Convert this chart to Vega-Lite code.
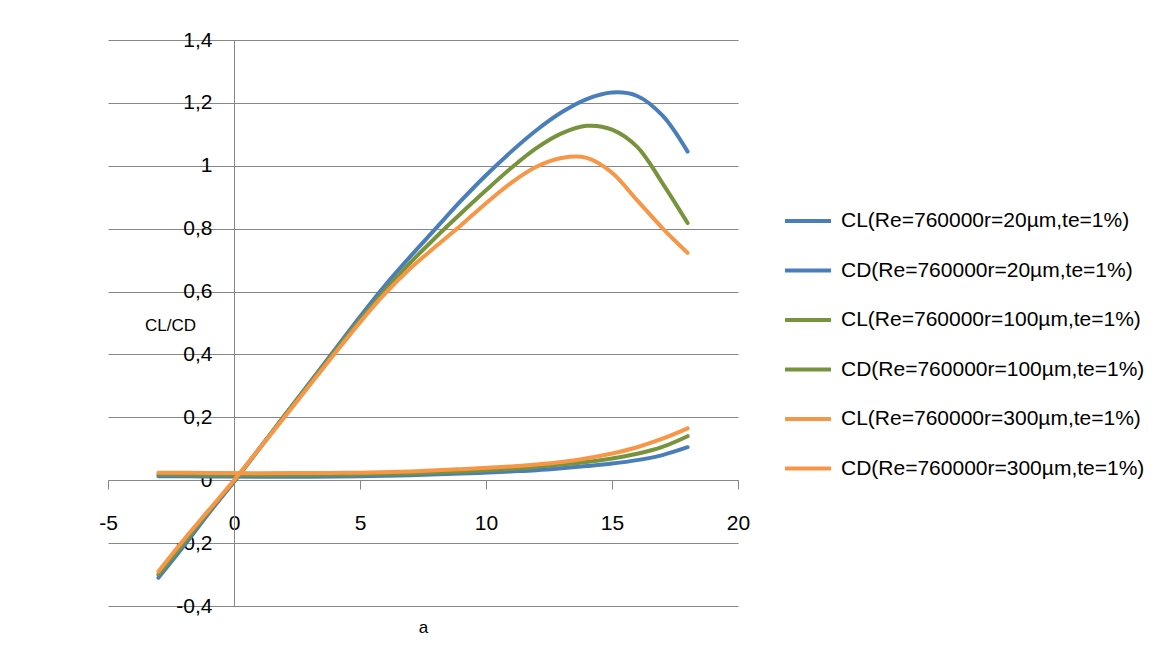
{
  "$schema": "https://vega.github.io/schema/vega-lite/v6.json",
  "autosize": "none",
  "padding": {"left": 108, "top": 40, "right": 428, "bottom": 64},
  "width": 630,
  "height": 566,
  "background": "white",
  "config": {
    "font": "Liberation Sans",
    "view": {"stroke": null},
    "axis": {"labelFont": "Liberation Sans", "titleFont": "Liberation Sans"}
  },
  "datasets": {
    "curves": [
      {"a": -3, "v": -0.31, "s": "CL(Re=760000r=20µm,te=1%)"},
      {"a": -2, "v": -0.21, "s": "CL(Re=760000r=20µm,te=1%)"},
      {"a": -1, "v": -0.105, "s": "CL(Re=760000r=20µm,te=1%)"},
      {"a": 0, "v": -0.005, "s": "CL(Re=760000r=20µm,te=1%)"},
      {"a": 1, "v": 0.1, "s": "CL(Re=760000r=20µm,te=1%)"},
      {"a": 2, "v": 0.205, "s": "CL(Re=760000r=20µm,te=1%)"},
      {"a": 3, "v": 0.31, "s": "CL(Re=760000r=20µm,te=1%)"},
      {"a": 4, "v": 0.415, "s": "CL(Re=760000r=20µm,te=1%)"},
      {"a": 5, "v": 0.52, "s": "CL(Re=760000r=20µm,te=1%)"},
      {"a": 6, "v": 0.62, "s": "CL(Re=760000r=20µm,te=1%)"},
      {"a": 7, "v": 0.712, "s": "CL(Re=760000r=20µm,te=1%)"},
      {"a": 8, "v": 0.8, "s": "CL(Re=760000r=20µm,te=1%)"},
      {"a": 9, "v": 0.888, "s": "CL(Re=760000r=20µm,te=1%)"},
      {"a": 10, "v": 0.97, "s": "CL(Re=760000r=20µm,te=1%)"},
      {"a": 11, "v": 1.045, "s": "CL(Re=760000r=20µm,te=1%)"},
      {"a": 12, "v": 1.113, "s": "CL(Re=760000r=20µm,te=1%)"},
      {"a": 13, "v": 1.17, "s": "CL(Re=760000r=20µm,te=1%)"},
      {"a": 14, "v": 1.212, "s": "CL(Re=760000r=20µm,te=1%)"},
      {"a": 15, "v": 1.233, "s": "CL(Re=760000r=20µm,te=1%)"},
      {"a": 16, "v": 1.222, "s": "CL(Re=760000r=20µm,te=1%)"},
      {"a": 17, "v": 1.16, "s": "CL(Re=760000r=20µm,te=1%)"},
      {"a": 18, "v": 1.045, "s": "CL(Re=760000r=20µm,te=1%)"},

      {"a": -3, "v": 0.013, "s": "CD(Re=760000r=20µm,te=1%)"},
      {"a": -1, "v": 0.012, "s": "CD(Re=760000r=20µm,te=1%)"},
      {"a": 1, "v": 0.011, "s": "CD(Re=760000r=20µm,te=1%)"},
      {"a": 3, "v": 0.011, "s": "CD(Re=760000r=20µm,te=1%)"},
      {"a": 5, "v": 0.013, "s": "CD(Re=760000r=20µm,te=1%)"},
      {"a": 7, "v": 0.016, "s": "CD(Re=760000r=20µm,te=1%)"},
      {"a": 9, "v": 0.021, "s": "CD(Re=760000r=20µm,te=1%)"},
      {"a": 11, "v": 0.028, "s": "CD(Re=760000r=20µm,te=1%)"},
      {"a": 12, "v": 0.032, "s": "CD(Re=760000r=20µm,te=1%)"},
      {"a": 13, "v": 0.038, "s": "CD(Re=760000r=20µm,te=1%)"},
      {"a": 14, "v": 0.045, "s": "CD(Re=760000r=20µm,te=1%)"},
      {"a": 15, "v": 0.053, "s": "CD(Re=760000r=20µm,te=1%)"},
      {"a": 16, "v": 0.064, "s": "CD(Re=760000r=20µm,te=1%)"},
      {"a": 17, "v": 0.08, "s": "CD(Re=760000r=20µm,te=1%)"},
      {"a": 18, "v": 0.105, "s": "CD(Re=760000r=20µm,te=1%)"},

      {"a": -3, "v": -0.3, "s": "CL(Re=760000r=100µm,te=1%)"},
      {"a": -2, "v": -0.2, "s": "CL(Re=760000r=100µm,te=1%)"},
      {"a": -1, "v": -0.1, "s": "CL(Re=760000r=100µm,te=1%)"},
      {"a": 0, "v": -0.003, "s": "CL(Re=760000r=100µm,te=1%)"},
      {"a": 1, "v": 0.1, "s": "CL(Re=760000r=100µm,te=1%)"},
      {"a": 2, "v": 0.205, "s": "CL(Re=760000r=100µm,te=1%)"},
      {"a": 3, "v": 0.307, "s": "CL(Re=760000r=100µm,te=1%)"},
      {"a": 4, "v": 0.41, "s": "CL(Re=760000r=100µm,te=1%)"},
      {"a": 5, "v": 0.51, "s": "CL(Re=760000r=100µm,te=1%)"},
      {"a": 6, "v": 0.605, "s": "CL(Re=760000r=100µm,te=1%)"},
      {"a": 7, "v": 0.692, "s": "CL(Re=760000r=100µm,te=1%)"},
      {"a": 8, "v": 0.772, "s": "CL(Re=760000r=100µm,te=1%)"},
      {"a": 9, "v": 0.848, "s": "CL(Re=760000r=100µm,te=1%)"},
      {"a": 10, "v": 0.922, "s": "CL(Re=760000r=100µm,te=1%)"},
      {"a": 11, "v": 0.993, "s": "CL(Re=760000r=100µm,te=1%)"},
      {"a": 12, "v": 1.056, "s": "CL(Re=760000r=100µm,te=1%)"},
      {"a": 13, "v": 1.103, "s": "CL(Re=760000r=100µm,te=1%)"},
      {"a": 14, "v": 1.127, "s": "CL(Re=760000r=100µm,te=1%)"},
      {"a": 15, "v": 1.115, "s": "CL(Re=760000r=100µm,te=1%)"},
      {"a": 16, "v": 1.06, "s": "CL(Re=760000r=100µm,te=1%)"},
      {"a": 17, "v": 0.945, "s": "CL(Re=760000r=100µm,te=1%)"},
      {"a": 18, "v": 0.818, "s": "CL(Re=760000r=100µm,te=1%)"},

      {"a": -3, "v": 0.018, "s": "CD(Re=760000r=100µm,te=1%)"},
      {"a": -1, "v": 0.017, "s": "CD(Re=760000r=100µm,te=1%)"},
      {"a": 1, "v": 0.016, "s": "CD(Re=760000r=100µm,te=1%)"},
      {"a": 3, "v": 0.017, "s": "CD(Re=760000r=100µm,te=1%)"},
      {"a": 5, "v": 0.018, "s": "CD(Re=760000r=100µm,te=1%)"},
      {"a": 7, "v": 0.021, "s": "CD(Re=760000r=100µm,te=1%)"},
      {"a": 9, "v": 0.027, "s": "CD(Re=760000r=100µm,te=1%)"},
      {"a": 11, "v": 0.036, "s": "CD(Re=760000r=100µm,te=1%)"},
      {"a": 12, "v": 0.042, "s": "CD(Re=760000r=100µm,te=1%)"},
      {"a": 13, "v": 0.05, "s": "CD(Re=760000r=100µm,te=1%)"},
      {"a": 14, "v": 0.058, "s": "CD(Re=760000r=100µm,te=1%)"},
      {"a": 15, "v": 0.069, "s": "CD(Re=760000r=100µm,te=1%)"},
      {"a": 16, "v": 0.084, "s": "CD(Re=760000r=100µm,te=1%)"},
      {"a": 17, "v": 0.106, "s": "CD(Re=760000r=100µm,te=1%)"},
      {"a": 18, "v": 0.14, "s": "CD(Re=760000r=100µm,te=1%)"},

      {"a": -3, "v": -0.29, "s": "CL(Re=760000r=300µm,te=1%)"},
      {"a": -2, "v": -0.19, "s": "CL(Re=760000r=300µm,te=1%)"},
      {"a": -1, "v": -0.095, "s": "CL(Re=760000r=300µm,te=1%)"},
      {"a": 0, "v": 0.0, "s": "CL(Re=760000r=300µm,te=1%)"},
      {"a": 1, "v": 0.1, "s": "CL(Re=760000r=300µm,te=1%)"},
      {"a": 2, "v": 0.2, "s": "CL(Re=760000r=300µm,te=1%)"},
      {"a": 3, "v": 0.302, "s": "CL(Re=760000r=300µm,te=1%)"},
      {"a": 4, "v": 0.403, "s": "CL(Re=760000r=300µm,te=1%)"},
      {"a": 5, "v": 0.502, "s": "CL(Re=760000r=300µm,te=1%)"},
      {"a": 6, "v": 0.594, "s": "CL(Re=760000r=300µm,te=1%)"},
      {"a": 7, "v": 0.674, "s": "CL(Re=760000r=300µm,te=1%)"},
      {"a": 8, "v": 0.743, "s": "CL(Re=760000r=300µm,te=1%)"},
      {"a": 9, "v": 0.81, "s": "CL(Re=760000r=300µm,te=1%)"},
      {"a": 10, "v": 0.881, "s": "CL(Re=760000r=300µm,te=1%)"},
      {"a": 11, "v": 0.946, "s": "CL(Re=760000r=300µm,te=1%)"},
      {"a": 12, "v": 0.997, "s": "CL(Re=760000r=300µm,te=1%)"},
      {"a": 13, "v": 1.025, "s": "CL(Re=760000r=300µm,te=1%)"},
      {"a": 14, "v": 1.025, "s": "CL(Re=760000r=300µm,te=1%)"},
      {"a": 15, "v": 0.978, "s": "CL(Re=760000r=300µm,te=1%)"},
      {"a": 16, "v": 0.89, "s": "CL(Re=760000r=300µm,te=1%)"},
      {"a": 17, "v": 0.802, "s": "CL(Re=760000r=300µm,te=1%)"},
      {"a": 18, "v": 0.723, "s": "CL(Re=760000r=300µm,te=1%)"},

      {"a": -3, "v": 0.024, "s": "CD(Re=760000r=300µm,te=1%)"},
      {"a": -1, "v": 0.023, "s": "CD(Re=760000r=300µm,te=1%)"},
      {"a": 1, "v": 0.022, "s": "CD(Re=760000r=300µm,te=1%)"},
      {"a": 3, "v": 0.023, "s": "CD(Re=760000r=300µm,te=1%)"},
      {"a": 5, "v": 0.024, "s": "CD(Re=760000r=300µm,te=1%)"},
      {"a": 7, "v": 0.028, "s": "CD(Re=760000r=300µm,te=1%)"},
      {"a": 9, "v": 0.035, "s": "CD(Re=760000r=300µm,te=1%)"},
      {"a": 11, "v": 0.044, "s": "CD(Re=760000r=300µm,te=1%)"},
      {"a": 12, "v": 0.05, "s": "CD(Re=760000r=300µm,te=1%)"},
      {"a": 13, "v": 0.058, "s": "CD(Re=760000r=300µm,te=1%)"},
      {"a": 14, "v": 0.07, "s": "CD(Re=760000r=300µm,te=1%)"},
      {"a": 15, "v": 0.085, "s": "CD(Re=760000r=300µm,te=1%)"},
      {"a": 16, "v": 0.105, "s": "CD(Re=760000r=300µm,te=1%)"},
      {"a": 17, "v": 0.132, "s": "CD(Re=760000r=300µm,te=1%)"},
      {"a": 18, "v": 0.165, "s": "CD(Re=760000r=300µm,te=1%)"}
    ]
  },
  "data": {"name": "curves"},
  "mark": {"type": "line", "interpolate": "catmull-rom", "strokeWidth": 4, "strokeCap": "round", "clip": false},
  "encoding": {
    "x": {
      "field": "a", "type": "quantitative",
      "scale": {"domain": [-5, 20], "nice": false, "zero": false},
      "axis": {
        "title": "a", "titleFontSize": 17, "titleFontWeight": "normal", "titleColor": "#000000",
        "titleY": 147, "titleBaseline": "middle",
        "values": [-5, 0, 5, 10, 15, 20],
        "labelExpr": "toString(datum.value)",
        "offset": -126,
        "grid": false,
        "domainColor": "#868686", "domainWidth": 1,
        "tickColor": "#868686", "tickSize": 9, "tickWidth": 1,
        "labelFontSize": 21, "labelColor": "#000000", "labelPadding": 23,
        "labelFlush": false
      }
    },
    "y": {
      "field": "v", "type": "quantitative",
      "scale": {"domain": [-0.4, 1.4], "nice": false, "zero": false},
      "axis": {
        "title": "CL/CD", "titleFontSize": 17, "titleFontWeight": "normal", "titleColor": "#000000",
        "titleAngle": 0, "titleX": -64, "titleY": 285, "titleAlign": "center", "titleBaseline": "middle",
        "values": [-0.4, -0.2, 0, 0.2, 0.4, 0.6, 0.8, 1, 1.2, 1.4],
        "labelExpr": "replace(toString(round(datum.value * 10) / 10), '.', ',')",
        "offset": -126,
        "grid": true, "gridColor": "#868686", "gridWidth": 1.2,
        "domainColor": "#868686", "domainWidth": 1,
        "ticks": false,
        "labelFontSize": 21, "labelColor": "#000000", "labelPadding": 22,
        "labelFlush": false
      }
    },
    "color": {
      "field": "s", "type": "nominal",
      "scale": {
        "domain": [
          "CL(Re=760000r=20µm,te=1%)", "CD(Re=760000r=20µm,te=1%)",
          "CL(Re=760000r=100µm,te=1%)", "CD(Re=760000r=100µm,te=1%)",
          "CL(Re=760000r=300µm,te=1%)", "CD(Re=760000r=300µm,te=1%)"
        ],
        "range": ["#4A7EBB", "#4A7EBB", "#77933C", "#77933C", "#F79646", "#F79646"]
      },
      "legend": {
        "title": null, "orient": "none", "legendX": 675, "legendY": 156,
        "symbolType": "stroke", "symbolSize": 2116, "symbolStrokeWidth": 4,
        "labelFontSize": 21, "labelColor": "#000000", "labelOffset": 8,
        "labelLimit": 400, "rowPadding": 14.5
      }
    }
  }
}
